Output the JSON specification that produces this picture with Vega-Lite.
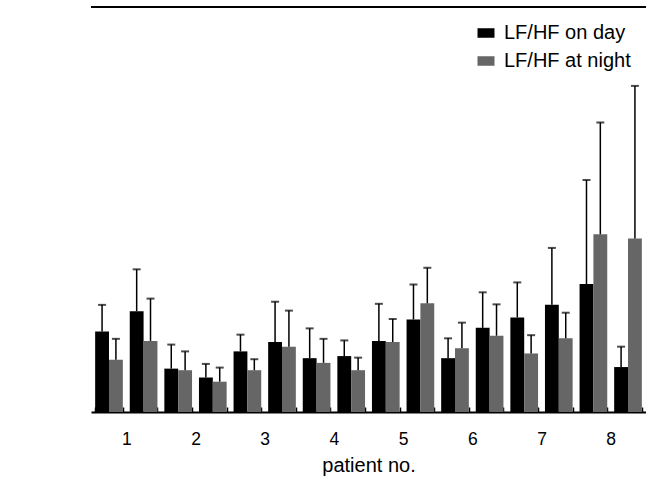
{
  "$schema": "https://vega.github.io/schema/vega-lite/v6.json",
  "autosize": "none",
  "padding": {"left": 91, "top": 7, "right": 0, "bottom": 66},
  "width": 555,
  "height": 405,
  "config": {
    "view": {"stroke": null},
    "font": "Liberation Sans",
    "axis": {"labelColor": "#000", "titleColor": "#000", "titleFontWeight": "normal", "grid": false, "tickColor": "#000", "domainColor": "#000", "domainWidth": 2, "tickWidth": 1.5}
  },
  "data": {
    "values": [
      {"recording": "1a", "series": "LF/HF on day", "lfhf": 1.54, "upper": 2.05},
      {"recording": "1a", "series": "LF/HF at night", "lfhf": 1.00, "upper": 1.40},
      {"recording": "1b", "series": "LF/HF on day", "lfhf": 1.93, "upper": 2.73},
      {"recording": "1b", "series": "LF/HF at night", "lfhf": 1.36, "upper": 2.17},
      {"recording": "2a", "series": "LF/HF on day", "lfhf": 0.83, "upper": 1.29},
      {"recording": "2a", "series": "LF/HF at night", "lfhf": 0.80, "upper": 1.16},
      {"recording": "2b", "series": "LF/HF on day", "lfhf": 0.66, "upper": 0.92},
      {"recording": "2b", "series": "LF/HF at night", "lfhf": 0.58, "upper": 0.85},
      {"recording": "3a", "series": "LF/HF on day", "lfhf": 1.16, "upper": 1.48},
      {"recording": "3a", "series": "LF/HF at night", "lfhf": 0.80, "upper": 1.01},
      {"recording": "3b", "series": "LF/HF on day", "lfhf": 1.34, "upper": 2.11},
      {"recording": "3b", "series": "LF/HF at night", "lfhf": 1.25, "upper": 1.94},
      {"recording": "4a", "series": "LF/HF on day", "lfhf": 1.03, "upper": 1.60},
      {"recording": "4a", "series": "LF/HF at night", "lfhf": 0.94, "upper": 1.40},
      {"recording": "4b", "series": "LF/HF on day", "lfhf": 1.07, "upper": 1.37},
      {"recording": "4b", "series": "LF/HF at night", "lfhf": 0.80, "upper": 1.04},
      {"recording": "5a", "series": "LF/HF on day", "lfhf": 1.36, "upper": 2.07},
      {"recording": "5a", "series": "LF/HF at night", "lfhf": 1.34, "upper": 1.78},
      {"recording": "5b", "series": "LF/HF on day", "lfhf": 1.77, "upper": 2.44},
      {"recording": "5b", "series": "LF/HF at night", "lfhf": 2.08, "upper": 2.76},
      {"recording": "6a", "series": "LF/HF on day", "lfhf": 1.03, "upper": 1.41},
      {"recording": "6a", "series": "LF/HF at night", "lfhf": 1.22, "upper": 1.71},
      {"recording": "6b", "series": "LF/HF on day", "lfhf": 1.61, "upper": 2.29},
      {"recording": "6b", "series": "LF/HF at night", "lfhf": 1.46, "upper": 2.06},
      {"recording": "7a", "series": "LF/HF on day", "lfhf": 1.81, "upper": 2.48},
      {"recording": "7a", "series": "LF/HF at night", "lfhf": 1.12, "upper": 1.47},
      {"recording": "7b", "series": "LF/HF on day", "lfhf": 2.05, "upper": 3.14},
      {"recording": "7b", "series": "LF/HF at night", "lfhf": 1.41, "upper": 1.90},
      {"recording": "8a", "series": "LF/HF on day", "lfhf": 2.45, "upper": 4.44},
      {"recording": "8a", "series": "LF/HF at night", "lfhf": 3.40, "upper": 5.54},
      {"recording": "8b", "series": "LF/HF on day", "lfhf": 0.86, "upper": 1.25},
      {"recording": "8b", "series": "LF/HF at night", "lfhf": 3.32, "upper": 6.24}
    ]
  },
  "layer": [
    {
      "mark": {"type": "bar"},
      "encoding": {
        "x": {
          "field": "recording",
          "type": "nominal",
          "scale": {"paddingInner": 0.2, "paddingOuter": 0.12},
          "axis": {
            "title": "patient no.",
            "titleFontSize": 20,
            "titlePadding": 8,
            "labelAngle": 0,
            "labelFontSize": 17.5,
            "labelExpr": "isString(datum.value) && slice(datum.value, 1) == 'a' ? slice(datum.value, 0, 1) : ''",
            "labelOffset": 17.3,
            "labelPadding": 23,
            "tickBand": "extent",
            "tickSize": -5
          }
        },
        "xOffset": {"field": "series", "type": "nominal", "sort": ["LF/HF on day", "LF/HF at night"]},
        "y": {
          "field": "lfhf",
          "type": "quantitative",
          "scale": {"domain": [0, 7.75], "nice": false},
          "axis": {
            "title": "LF/HF (a.u.)",
            "titleFontSize": 20,
            "titlePadding": 14,
            "values": [0, 0.5, 1, 1.5, 2, 2.5, 3, 3.5, 4, 4.5, 5, 5.5, 6, 6.5],
            "format": ".1f",
            "labelFontSize": 17.5,
            "labelPadding": 23,
            "labelOverlap": false,
            "tickSize": -8
          }
        },
        "color": {
          "field": "series",
          "type": "nominal",
          "scale": {"domain": ["LF/HF on day", "LF/HF at night"], "range": ["#000000", "#666666"]},
          "legend": {
            "title": null,
            "orient": "none",
            "legendX": 385,
            "legendY": 16,
            "symbolType": "M-1,-0.56H1V0.56H-1Z",
            "symbolSize": 289,
            "symbolStrokeWidth": 0,
            "labelFontSize": 20,
            "labelColor": "#000",
            "labelOffset": 8,
            "rowPadding": 8,
            "encode": {"symbols": {"update": {"shape": {"value": "M-1,-0.56H1V0.56H-1Z"}, "size": {"value": 289}, "strokeWidth": {"value": 0}}}}
          }
        }
      }
    },
    {
      "mark": {"type": "rule", "color": "#000", "strokeWidth": 1.5},
      "encoding": {
        "x": {"field": "recording", "type": "nominal"},
        "xOffset": {"field": "series", "type": "nominal", "sort": ["LF/HF on day", "LF/HF at night"]},
        "y": {"field": "lfhf", "type": "quantitative", "axis": null},
        "y2": {"field": "upper"}
      }
    },
    {
      "mark": {"type": "tick", "color": "#000", "size": 8, "thickness": 2},
      "encoding": {
        "x": {"field": "recording", "type": "nominal"},
        "xOffset": {"field": "series", "type": "nominal", "sort": ["LF/HF on day", "LF/HF at night"]},
        "y": {"field": "upper", "type": "quantitative", "axis": null}
      }
    },
    {
      "mark": {"type": "rule", "color": "#000", "strokeWidth": 2},
      "encoding": {
        "y": {"datum": 7.75, "type": "quantitative", "axis": null}
      }
    }
  ]
}
